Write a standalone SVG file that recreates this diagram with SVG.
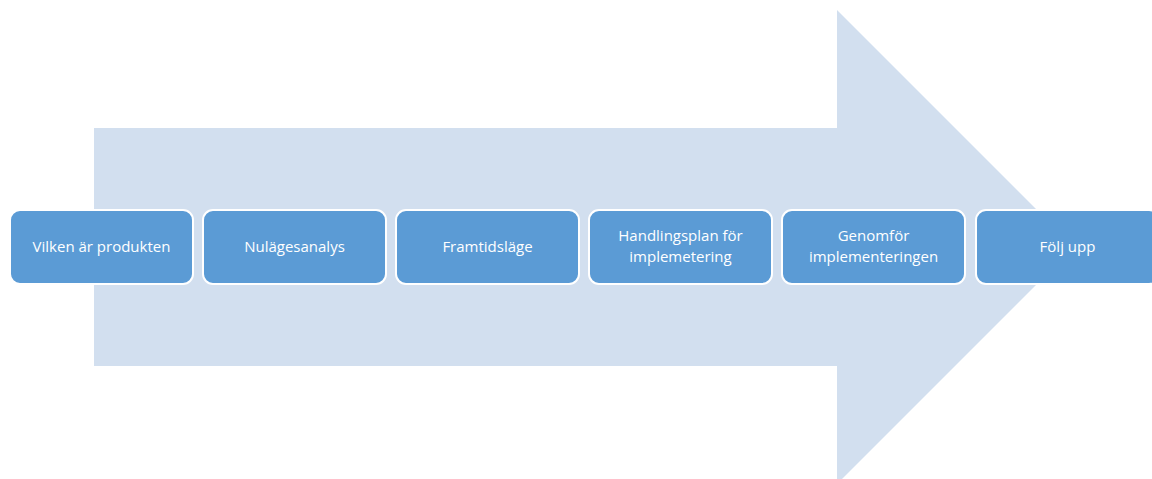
<svg xmlns="http://www.w3.org/2000/svg" width="1152" height="479" viewBox="0 0 1152 479">
<style>
.box{fill:#5b9bd5;stroke:#ffffff;stroke-width:2}
.lbl{font-family:"Open Sans","Liberation Sans",sans-serif;font-size:15px;fill:#ffffff;text-anchor:middle}
</style>
<rect width="1152" height="479" fill="#ffffff"/>
<g id="arrow">
<polygon points="94,128 837,128 837,10 1074,247 837,484 837,366 94,366" fill="#d2dfef"/>
</g>
<g id="connectors"></g>
<g id="n1"><rect class="box" x="10" y="210" width="183" height="74" rx="10"/><text class="lbl" x="101.5" y="252">Vilken är produkten</text></g>
<g id="n2"><rect class="box" x="203" y="210" width="183" height="74" rx="10"/><text class="lbl" x="294.5" y="252">Nulägesanalys</text></g>
<g id="n3"><rect class="box" x="396" y="210" width="183" height="74" rx="10"/><text class="lbl" x="487.5" y="252">Framtidsläge</text></g>
<g id="n4"><rect class="box" x="589" y="210" width="183" height="74" rx="10"/><text class="lbl" x="680.5" y="241">Handlingsplan för</text><text class="lbl" x="680.5" y="262">implemetering</text></g>
<g id="n5"><rect class="box" x="782" y="210" width="183" height="74" rx="10"/><text class="lbl" x="873.5" y="241">Genomför</text><text class="lbl" x="873.5" y="262">implementeringen</text></g>
<g id="n6"><rect class="box" x="976" y="210" width="183" height="74" rx="10"/><text class="lbl" x="1067.5" y="252">Följ upp</text></g>
</svg>
